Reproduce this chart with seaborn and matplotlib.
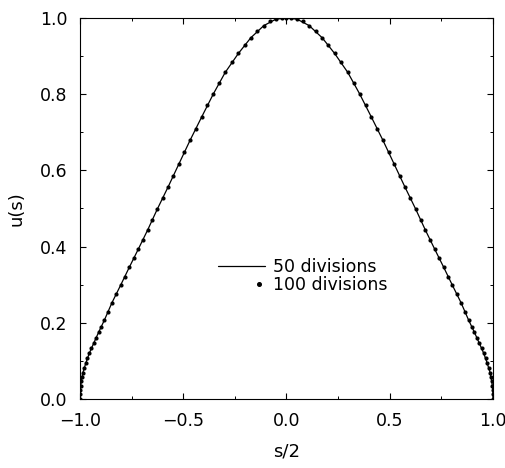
import matplotlib
matplotlib.use("Agg")
import matplotlib.pyplot as plt
from matplotlib.lines import Line2D
from matplotlib.legend_handler import HandlerLine2D
from matplotlib.ticker import MultipleLocator
import seaborn as sns
import pandas as pd

# ---- data ----
# 100 divisions (dots)
x100 = [-1.000, -1.000, -0.999, -0.997, -0.994, -0.991, -0.986, -0.980, -0.972, -0.964,
        -0.955, -0.945, -0.934, -0.923, -0.910, -0.897, -0.882, -0.865, -0.845, -0.824,
        -0.803, -0.782, -0.761, -0.739, -0.718, -0.694, -0.672, -0.650, -0.626, -0.600,
        -0.573, -0.548, -0.521, -0.496, -0.467, -0.438, -0.411, -0.383, -0.354, -0.325,
        -0.297, -0.265, -0.233, -0.202, -0.173, -0.141, -0.110, -0.080, -0.051, -0.024,
        0.000,
        0.024, 0.051, 0.080, 0.110, 0.141, 0.173, 0.202, 0.233, 0.265, 0.297,
        0.325, 0.354, 0.383, 0.411, 0.438, 0.467, 0.496, 0.521, 0.548, 0.573,
        0.600, 0.626, 0.650, 0.672, 0.694, 0.718, 0.739, 0.761, 0.782, 0.803,
        0.824, 0.845, 0.865, 0.882, 0.897, 0.910, 0.923, 0.934, 0.945, 0.955,
        0.964, 0.972, 0.980, 0.986, 0.991, 0.994, 0.997, 0.999, 1.000, 1.000]
u100 = [0.000, 0.012, 0.024, 0.035, 0.046, 0.058, 0.069, 0.081, 0.094, 0.107,
        0.120, 0.133, 0.146, 0.159, 0.175, 0.190, 0.207, 0.228, 0.253, 0.276,
        0.299, 0.321, 0.346, 0.369, 0.393, 0.418, 0.444, 0.470, 0.498, 0.527,
        0.557, 0.586, 0.617, 0.649, 0.679, 0.709, 0.740, 0.772, 0.801, 0.829,
        0.857, 0.884, 0.907, 0.929, 0.948, 0.967, 0.980, 0.991, 0.997, 1.000,
        1.000,
        1.000, 0.997, 0.991, 0.980, 0.967, 0.948, 0.929, 0.907, 0.884, 0.857,
        0.829, 0.801, 0.772, 0.740, 0.709, 0.679, 0.649, 0.617, 0.586, 0.557,
        0.527, 0.498, 0.470, 0.444, 0.418, 0.393, 0.369, 0.346, 0.321, 0.299,
        0.276, 0.253, 0.228, 0.207, 0.190, 0.175, 0.159, 0.146, 0.133, 0.120,
        0.107, 0.094, 0.081, 0.069, 0.058, 0.046, 0.035, 0.024, 0.012, 0.000]

# 50 divisions (line)
x50 = [-1.000, -0.999, -0.994, -0.986, -0.972, -0.955, -0.934, -0.910, -0.882, -0.845,
       -0.803, -0.761, -0.718, -0.672, -0.626, -0.573, -0.521, -0.467, -0.411, -0.354,
       -0.297, -0.233, -0.173, -0.110, -0.051, 0.000,
       0.051, 0.110, 0.173, 0.233, 0.297, 0.354, 0.411, 0.467, 0.521, 0.573,
       0.626, 0.672, 0.718, 0.761, 0.803, 0.845, 0.882, 0.910, 0.934, 0.955,
       0.972, 0.986, 0.994, 0.999, 1.000]
u50 = [0.000, 0.024, 0.046, 0.069, 0.094, 0.120, 0.146, 0.175, 0.207, 0.253,
       0.299, 0.346, 0.393, 0.444, 0.498, 0.557, 0.617, 0.679, 0.740, 0.801,
       0.857, 0.907, 0.948, 0.980, 0.997, 1.000,
       0.997, 0.980, 0.948, 0.907, 0.857, 0.801, 0.740, 0.679, 0.617, 0.557,
       0.498, 0.444, 0.393, 0.346, 0.299, 0.253, 0.207, 0.175, 0.146, 0.120,
       0.094, 0.069, 0.046, 0.024, 0.000]

series_labels = ["50 divisions", "100 divisions"]
x_label = "s/2"
y_label = "u(s)"

df100 = pd.DataFrame({"s2": x100, "u": u100})
df50 = pd.DataFrame({"s2": x50, "u": u50})


class RightDotHandler(HandlerLine2D):
    """Legend key with a single marker drawn near the right end of the key."""
    def get_xdata(self, legend, xdescent, ydescent, width, height, fontsize):
        right = -xdescent + width
        return [right - 6.0, right - 2.0], [right - 4.0]


# ---- style ----
sns.set_theme(style="ticks")
plt.rcParams["font.family"] = ["DejaVu Sans"]
plt.rcParams.update({
    "xtick.direction": "in", "ytick.direction": "in",
    "xtick.top": True, "ytick.right": True,
    "axes.linewidth": 0.8,
    "text.color": "black", "axes.labelcolor": "black",
    "xtick.color": "black", "ytick.color": "black",
    "axes.edgecolor": "black",
})

fig = plt.figure(figsize=(5.06, 4.68), dpi=100)
ax = fig.add_axes([80 / 506, 1 - 399 / 468, 413 / 506, 381 / 468])

sns.lineplot(data=df50, x="s2", y="u", sort=False, estimator=None,
             color="black", linewidth=0.9, ax=ax)
sns.scatterplot(data=df100, x="s2", y="u", color="black", s=9,
                linewidth=0, ax=ax, zorder=3)

ax.set_xlim(-1.0, 1.0)
ax.set_ylim(0.0, 1.0)
ax.xaxis.set_major_locator(MultipleLocator(0.5))
ax.xaxis.set_minor_locator(MultipleLocator(0.25))
ax.yaxis.set_major_locator(MultipleLocator(0.2))
ax.yaxis.set_minor_locator(MultipleLocator(0.1))
ax.tick_params(which="major", length=4.5, width=0.8, labelsize=12.5,
               pad=9, colors="black", top=True, right=True)
ax.tick_params(which="minor", length=2.5, width=0.7, top=True, right=True)

ax.set_xlabel(x_label, fontsize=13)
ax.set_ylabel(y_label, fontsize=13)
ax.xaxis.set_label_coords(0.5, -0.115)
ax.yaxis.set_label_coords(-0.131, 0.5)

h_line = Line2D([], [], color="black", linewidth=0.9)
h_dot = Line2D([], [], color="black", linestyle="", marker="o",
               markersize=2.6)
ax.legend([h_line, h_dot], series_labels, frameon=False, fontsize=12.5,
          loc="center left", bbox_to_anchor=(0.334, 0.323),
          borderpad=0, borderaxespad=0, handlelength=2.7,
          handletextpad=0.45, labelspacing=0.0,
          handler_map={h_dot: RightDotHandler()})

fig.savefig("out.png", dpi=100)
